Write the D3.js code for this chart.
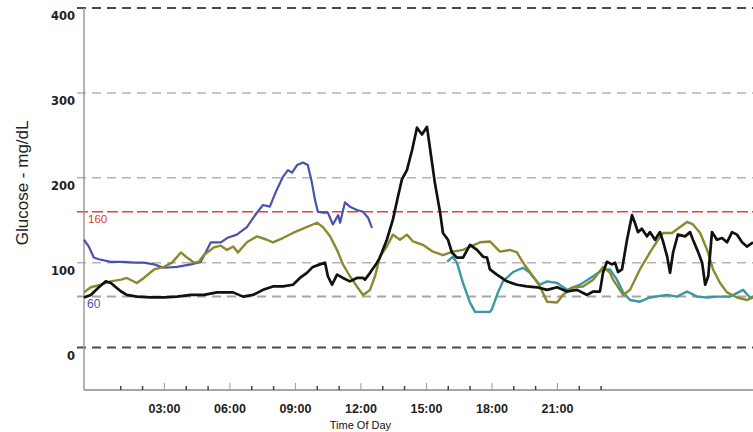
<!DOCTYPE html>
<html>
<head>
<meta charset="utf-8">
<script src="https://cdn.jsdelivr.net/npm/d3@7"></script>
<style>
  html, body { margin: 0; padding: 0; background: #fff; }
  svg { display: block; }
</style>
</head>
<body>
<svg id="chart" width="753" height="432"></svg>
<script>
// ---- data (time of day in hours, glucose in mg/dL) ----
const blueSeries = [
  [-0.66,127],[-0.44,119],[-0.21,106],[0.02,104],[0.57,101],[1.17,101],[1.62,100],[2.08,100],
  [2.55,98],[3.00,94],[3.60,95],[4.24,98],[4.69,101],[5.15,124],[5.61,124],[5.89,129],
  [6.34,133],[6.80,142],[7.26,159],[7.54,168],[7.85,166],[8.17,186],[8.45,201],[8.68,209],
  [8.87,206],[9.10,215],[9.37,218],[9.59,215],[9.78,194],[9.92,174],[10.05,160],
  [10.28,159],[10.51,159],[10.74,145],[10.98,156],[11.07,147],[11.29,171],[11.52,166],
  [11.84,162],[12.12,160],[12.35,153],[12.53,141]
];
const oliveSeries = [
  [-0.66,65],[-0.35,71],[0.11,74],[0.57,78],[1.04,80],[1.30,82],[1.76,76],[2.08,82],[2.55,92],
  [3.00,95],[3.37,100],[3.78,112],[4.06,106],[4.38,100],[4.60,101],[4.83,109],[5.29,118],
  [5.61,120],[5.89,115],[6.17,119],[6.39,112],[6.80,124],[7.26,131],[7.72,127],[7.99,124],
  [8.45,129],[8.91,135],[9.37,140],[10.01,147],[10.28,142],[10.61,131],[10.93,115],
  [11.20,98],[11.52,84],[11.84,72],[12.12,62],[12.30,65],[12.44,68],[12.67,84],[12.89,107],
  [13.21,119],[13.49,133],[13.81,127],[14.13,133],[14.41,125],[14.86,121],[15.32,113],
  [15.78,109],[16.23,113],[16.70,115],[17.02,119],[17.48,124],[17.93,125],[18.39,113],
  [18.85,115],[19.17,112],[19.45,100],[19.90,84],[20.22,72],[20.55,54],[21.01,53],
  [21.27,62],[21.73,71],[22.20,72],[22.66,80],[23.11,95],[23.43,88],[23.57,80],[24.03,62],
  [24.35,68],[24.80,92],[25.26,112],[25.63,127],[25.86,135],[26.27,135],[26.64,142],
  [26.96,148],[27.23,145],[27.56,135],[27.88,115],[28.15,92],[28.47,76],[28.79,65],
  [29.25,59],[29.70,56],[29.98,59]
];
const tealSeries = [
  [15.97,101],[16.23,107],[16.42,100],[16.70,76],[17.02,53],[17.25,42],[17.93,42],[18.02,45],
  [18.30,65],[18.53,78],[18.99,89],[19.45,94],[19.76,88],[20.22,74],[20.55,78],[21.01,76],
  [21.46,68],[22.06,74],[22.66,84],[23.11,92],[23.43,92],[23.75,80],[24.03,65],[24.35,56],
  [24.80,54],[25.26,59],[26.05,62],[26.50,60],[26.96,66],[27.42,60],[27.88,59],[28.33,60],
  [28.93,60],[29.53,68],[29.84,59],[29.98,60]
];
const blackSeries = [
  [-0.66,59],[-0.35,62],[0.02,71],[0.34,78],[0.57,76],[0.80,71],[1.04,66],[1.30,62],[1.76,60],
  [2.41,59],[3.00,59],[3.60,60],[4.24,62],[4.83,62],[5.43,65],[6.17,65],[6.62,60],[7.08,62],
  [7.54,68],[7.99,72],[8.45,72],[8.91,74],[9.23,82],[9.55,88],[9.82,95],[10.15,98],
  [10.38,100],[10.51,84],[10.70,74],[10.93,86],[11.20,82],[11.52,78],[11.84,82],[12.12,82],
  [12.21,80],[12.44,88],[12.76,100],[12.89,106],[13.21,127],[13.49,151],[13.72,178],
  [13.90,198],[14.13,209],[14.37,233],[14.59,259],[14.82,251],[15.05,260],[15.18,236],
  [15.41,194],[15.65,159],[15.78,135],[16.01,127],[16.19,112],[16.42,106],[16.70,106],
  [17.02,121],[17.34,115],[17.62,107],[17.80,106],[17.93,92],[18.25,86],[18.71,78],
  [19.17,74],[19.62,72],[20.09,71],[20.55,68],[21.01,71],[21.46,66],[21.92,68],[22.38,62],
  [22.66,66],[22.97,66],[23.11,88],[23.29,101],[23.52,98],[23.66,100],[23.80,89],[23.98,92],
  [24.21,127],[24.44,156],[24.57,147],[24.71,136],[24.89,140],[25.12,131],[25.26,136],
  [25.49,127],[25.72,136],[25.86,125],[26.05,107],[26.18,88],[26.32,112],[26.54,133],
  [26.87,131],[27.10,136],[27.23,127],[27.46,113],[27.65,100],[27.79,74],[27.93,84],
  [28.10,136],[28.33,127],[28.56,129],[28.79,124],[29.02,136],[29.25,133],[29.48,124],
  [29.70,119],[29.98,124]
];
const yTickValues = [400, 300, 200, 100, 0];
const majorGrid = [400, 0];
const minorGrid = [300, 200, 100];
const lowLimit = 60;
const highLimit = 160;
const xMajorHours = [3, 6, 9, 12, 15, 18, 21];
const xMajorLabels = ["03:00", "06:00", "09:00", "12:00", "15:00", "18:00", "21:00"];
const xMinorHours = [1,2,4,5,7,8,10,11,13,14,16,17,19,20,22,23];
const xTitle = "Time Of Day";
const yTitle = "Glucose - mg/dL";

// ---- scales ----
const svg = d3.select("#chart");
const x = d3.scaleLinear().domain([-0.66, 29.98]).range([84, 753]);
const y = d3.scaleLinear().domain([-50, 400]).range([390, 8]);
const x0 = x.range()[0], x1 = x.range()[1];
const gridStart = x0 - 7;

// ---- grid lines ----
const g = svg.append("g");
function hline(v, stroke, width, dash) {
  g.append("line")
    .attr("x1", gridStart).attr("x2", x1)
    .attr("y1", y(v)).attr("y2", y(v))
    .attr("stroke", stroke).attr("stroke-width", width)
    .attr("stroke-dasharray", dash);
}
minorGrid.forEach(v => hline(v, "#b4b4b4", 1.5, "9,6"));
hline(lowLimit, "#a6a6a6", 2, "9,6");
majorGrid.forEach(v => hline(v, "#4a4a4a", 2, "9,6"));
hline(highLimit, "#e5432e", 1.7, "11,4");

// ---- axes ----
svg.append("line")
  .attr("x1", x0).attr("x2", x0).attr("y1", y(400)).attr("y2", y(-50))
  .attr("stroke", "#9a9a9a").attr("stroke-width", 1.5);
svg.append("line")
  .attr("x1", x0).attr("x2", x1).attr("y1", y(-50)).attr("y2", y(-50))
  .attr("stroke", "#8a8a8a").attr("stroke-width", 1.5);

const xAxisMinor = d3.axisBottom(x).tickValues(xMinorHours).tickSize(-4).tickFormat("");
const axMin = svg.append("g").attr("transform", `translate(0,${y(-50)})`).call(xAxisMinor);
axMin.select(".domain").remove();
axMin.selectAll(".tick line").attr("stroke", "#444").attr("stroke-width", 1.5);

const xAxisMajor = d3.axisBottom(x).tickValues(xMajorHours).tickSize(-7)
  .tickFormat((d, i) => xMajorLabels[i]).tickPadding(14);
const axMaj = svg.append("g").attr("transform", `translate(0,${y(-50)})`).call(xAxisMajor);
axMaj.select(".domain").remove();
axMaj.selectAll(".tick line").attr("stroke", "#999").attr("stroke-width", 1);
axMaj.selectAll(".tick text")
  .attr("font-family", "Liberation Sans, Arial, sans-serif")
  .attr("font-weight", "bold").attr("font-size", 12.5).attr("fill", "#222");

// y tick labels
svg.append("g").selectAll("text").data(yTickValues).join("text")
  .attr("x", x0 - 9).attr("y", d => y(d) + 12)
  .attr("text-anchor", "end")
  .attr("font-family", "DejaVu Sans, sans-serif")
  .attr("font-weight", "bold").attr("font-size", 11.5).attr("fill", "#222")
  .text(d => d);

// titles
svg.append("text")
  .attr("x", x(12)).attr("y", 429)
  .attr("text-anchor", "middle")
  .attr("font-family", "Liberation Sans, Arial, sans-serif")
  .attr("font-size", 11).attr("fill", "#111")
  .text(xTitle);
svg.append("text")
  .attr("transform", `translate(28,${y(194)}) rotate(-90)`)
  .attr("text-anchor", "middle")
  .attr("font-family", "Liberation Sans, Arial, sans-serif")
  .attr("font-size", 17).attr("fill", "#222")
  .text(yTitle);

// limit labels
svg.append("text")
  .attr("x", x0 + 4).attr("y", y(highLimit) + 11)
  .attr("font-family", "Liberation Sans, Arial, sans-serif")
  .attr("font-size", 11.5).attr("fill", "#d63c2c")
  .text(String(highLimit));
svg.append("text")
  .attr("x", x0 + 3).attr("y", y(lowLimit) + 11)
  .attr("font-family", "Liberation Sans, Arial, sans-serif")
  .attr("font-size", 12).attr("fill", "#4a52ad")
  .text(String(lowLimit));

// ---- series ----
const line = d3.line().x(d => x(d[0])).y(d => y(d[1]));
const series = [
  { data: blueSeries, color: "#4a52ad", width: 2.2 },
  { data: tealSeries, color: "#3b97a6", width: 2.4 },
  { data: oliveSeries, color: "#8a8a2c", width: 2.4 },
  { data: blackSeries, color: "#111111", width: 2.7 }
];
svg.append("g").selectAll("path").data(series).join("path")
  .attr("d", d => line(d.data))
  .attr("fill", "none")
  .attr("stroke", d => d.color)
  .attr("stroke-width", d => d.width)
  .attr("stroke-linejoin", "round");
</script>
</body>
</html>
